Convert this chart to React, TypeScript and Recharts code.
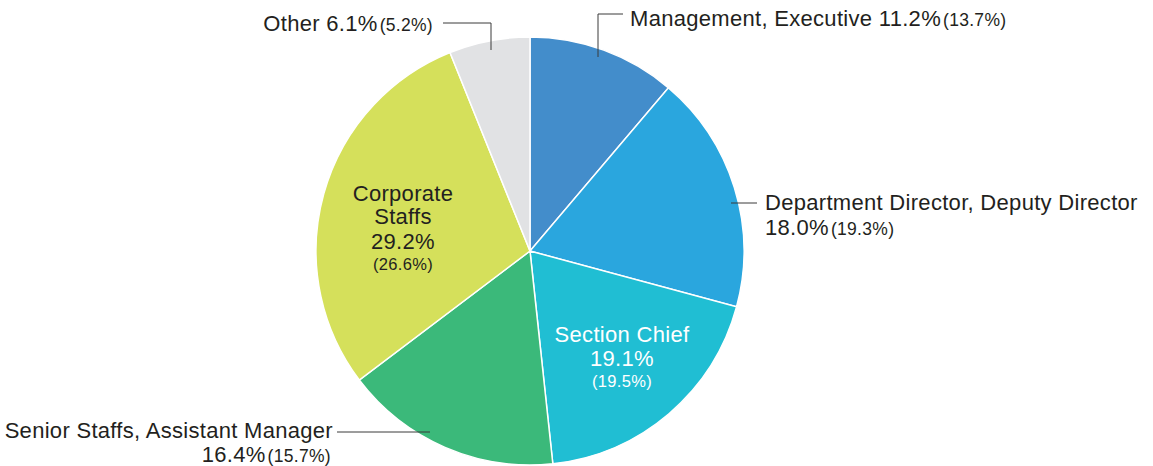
import { PieChart, Pie, Cell } from "recharts";

const categories = [
  "Management, Executive",
  "Department Director, Deputy Director",
  "Section Chief",
  "Senior Staffs, Assistant Manager",
  "Corporate Staffs",
  "Other",
];
const shares = [11.2, 18.0, 19.1, 16.4, 29.2, 6.1];
const previous = [13.7, 19.3, 19.5, 15.7, 26.6, 5.2];
const colors = ["#438dcb", "#2aa6de", "#20bed3", "#3bb97a", "#d5e05b", "#e1e2e4"];

const data = categories.map((name, i) => ({ name, value: shares[i], prev: previous[i] }));

const FONT = "'Liberation Sans', Arial, sans-serif";
const INK = "#231f20";
const BIG = 22;
const SMALL = 17.5;
const INNER_SMALL = 16.5;
const LS = 0.3;

const pct = (v: number) => `${v.toFixed(1)}%`;
const paren = (v: number) => `(${v.toFixed(1)}%)`;

const Paren = ({ v }: { v: number }) => (
  <tspan fontSize={SMALL} dx={2}>
    {paren(v)}
  </tspan>
);

const renderLabel = (props: any) => {
  const { cx, cy, index } = props;
  const d = data[index];
  const line = { stroke: "#3a3a3a", strokeWidth: 1, fill: "none" };
  const txt = { fontFamily: FONT, fill: INK, letterSpacing: LS };

  switch (index) {
    case 0:
      return (
        <g key="l0">
          <polyline points={`${cx + 68},${cy - 194} ${cx + 68},${cy - 237} ${cx + 93},${cy - 237}`} {...line} />
          <text x={cx + 100} y={cy - 225} {...txt} fontSize={BIG}>
            {d.name} {pct(d.value)}
            <Paren v={d.prev} />
          </text>
        </g>
      );
    case 1:
      return (
        <g key="l1">
          <polyline points={`${cx + 201},${cy - 48} ${cx + 227},${cy - 48}`} {...line} />
          <text x={cx + 235} y={cy - 41} {...txt} fontSize={BIG}>
            {d.name}
          </text>
          <text x={cx + 235} y={cy - 16} {...txt} fontSize={BIG}>
            {pct(d.value)}
            <Paren v={d.prev} />
          </text>
        </g>
      );
    case 2:
      return (
        <g key="l2" textAnchor="middle">
          <text x={cx + 92} y={cy + 91} fontFamily={FONT} letterSpacing={LS} fill="#fff" fontSize={BIG}>
            {d.name}
          </text>
          <text x={cx + 92} y={cy + 115} fontFamily={FONT} letterSpacing={LS} fill="#fff" fontSize={BIG}>
            {pct(d.value)}
          </text>
          <text x={cx + 92} y={cy + 136} fontFamily={FONT} letterSpacing={LS} fill="#fff" fontSize={INNER_SMALL}>
            {paren(d.prev)}
          </text>
        </g>
      );
    case 3:
      return (
        <g key="l3">
          <polyline points={`${cx - 193},${cy + 181} ${cx - 100},${cy + 181}`} {...line} />
          <text x={cx - 197} y={cy + 187} {...txt} fontSize={BIG} textAnchor="end">
            {d.name}
          </text>
          <text x={cx - 199} y={cy + 211} {...txt} fontSize={BIG} textAnchor="end">
            {pct(d.value)}
            <Paren v={d.prev} />
          </text>
        </g>
      );
    case 4: {
      const [first, second] = d.name.split(" ");
      return (
        <g key="l4" textAnchor="middle">
          <text x={cx - 127} y={cy - 50} {...txt} fontSize={BIG}>{first}</text>
          <text x={cx - 127} y={cy - 27} {...txt} fontSize={BIG}>{second}</text>
          <text x={cx - 127} y={cy - 2} {...txt} fontSize={BIG}>{pct(d.value)}</text>
          <text x={cx - 127} y={cy + 19} {...txt} fontSize={INNER_SMALL}>{paren(d.prev)}</text>
        </g>
      );
    }
    default:
      return (
        <g key="l5">
          <polyline points={`${cx - 87},${cy - 228} ${cx - 39},${cy - 228} ${cx - 39},${cy - 201}`} {...line} />
          <text x={cx - 97} y={cy - 220} {...txt} fontSize={BIG} textAnchor="end">
            {d.name} {pct(d.value)}
            <Paren v={d.prev} />
          </text>
        </g>
      );
  }
};

export default function App() {
  return (
    <div style={{ position: "absolute", left: 0, top: 0, width: 1153, height: 466, background: "#fff" }}>
      <PieChart width={1153} height={466} margin={{ top: 0, right: 0, bottom: 0, left: 0 }}>
        <Pie
          data={data}
          dataKey="value"
          nameKey="name"
          cx={530}
          cy={251}
          outerRadius={214}
          startAngle={90}
          endAngle={-270}
          stroke="#fff"
          strokeWidth={1.5}
          label={renderLabel}
          labelLine={false}
          isAnimationActive={false}
        >
          {data.map((d, i) => (
            <Cell key={d.name} fill={colors[i]} />
          ))}
        </Pie>
      </PieChart>
    </div>
  );
}
